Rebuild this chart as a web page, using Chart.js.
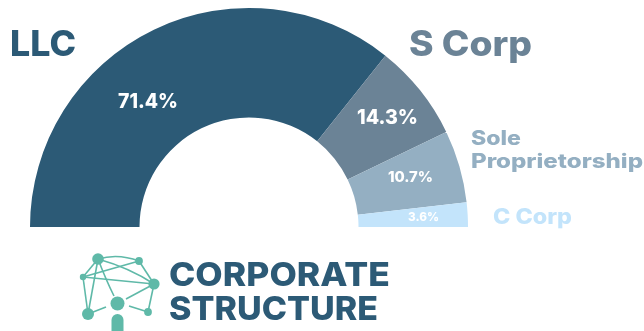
<!DOCTYPE html>
<html lang="en">
<head>
  <meta charset="UTF-8">
  <title>Corporate Structure</title>
  <script src="https://cdn.jsdelivr.net/npm/chart.js"></script>
  <style>
    html, body { margin: 0; background: #fff; }
    .wrap { position: relative; width: 644px; height: 331px; overflow: hidden; }
    .wrap canvas { position: absolute; left: 0; top: 0; }
    .logo { position: absolute; left: 0; top: 0; }
    .logo line, .logo path { stroke: #5fb9a8; stroke-width: 1.6; fill: none; }
    .logo circle, .logo rect { fill: #5fb9a8; }
  </style>
</head>
<body>
  <div class="wrap">
    <canvas id="structureChart" width="644" height="331"></canvas>
    <!-- network head logo -->
    <svg class="logo" width="644" height="331">
      <path d="M98 259 Q118 253 139 261"/>
      <path d="M98 259 Q130 268 154 284"/>
      <path d="M98 259 Q106 280 114 296"/>
      <line x1="98" y1="259" x2="83" y2="277"/>
      <line x1="98" y1="259" x2="88" y2="314"/>
      <line x1="139" y1="261" x2="154" y2="284"/>
      <line x1="139" y1="261" x2="83" y2="277"/>
      <line x1="83" y1="277" x2="154" y2="284"/>
      <line x1="83" y1="277" x2="88" y2="314"/>
      <line x1="154" y1="284" x2="148" y2="312"/>
      <line x1="154" y1="284" x2="126" y2="299"/>
      <line x1="148" y1="312" x2="129" y2="306"/>
      <line x1="88" y1="314" x2="106" y2="307"/>
      <circle cx="98" cy="259" r="5.8"/>
      <circle cx="139" cy="261" r="3.9"/>
      <circle cx="83" cy="277" r="3.2"/>
      <circle cx="154" cy="284" r="5.6"/>
      <circle cx="88" cy="314" r="6"/>
      <circle cx="148" cy="312" r="3.9"/>
      <circle cx="117.5" cy="303.5" r="7"/>
      <rect x="111.5" y="314" width="12" height="24" rx="6"/>
    </svg>
  </div>

  <script>
    const categories = ['LLC', 'S Corp', 'Sole Proprietorship', 'C Corp'];
    const shares = [71.4, 14.3, 10.7, 3.6];
    const sliceColors = ['#2c5a76', '#6b8396', '#94afc2', '#c3e4fb'];
    const heading = ['CORPORATE', 'STRUCTURE'];

    const FONT = 'Inter, "Open Sans", sans-serif';

    // bold text stretched sideways to an exact width
    function fitText(ctx, text, x, y, width, size, color) {
      ctx.save();
      ctx.font = '800 ' + size + 'px ' + FONT;
      ctx.fillStyle = color;
      ctx.textAlign = 'left';
      ctx.textBaseline = 'alphabetic';
      ctx.translate(x, y);
      ctx.scale(width / ctx.measureText(text).width, 1);
      ctx.fillText(text, 0, 0);
      ctx.restore();
    }

    const textPlugin = {
      id: 'structureText',
      afterDraw(chart) {
        const ctx = chart.ctx;
        // percentage on each slice
        fitText(ctx, shares[0].toFixed(1) + '%', 118, 108, 60, 20, '#fff');
        fitText(ctx, shares[1].toFixed(1) + '%', 357, 124, 61, 20, '#fff');
        fitText(ctx, shares[2].toFixed(1) + '%', 388, 182, 45, 15, '#fff');
        fitText(ctx, shares[3].toFixed(1) + '%', 408, 221, 31, 12, '#fff');
        // category names beside the arc
        fitText(ctx, categories[0], 10, 56, 66, 35, sliceColors[0]);
        fitText(ctx, categories[1], 409, 56, 123, 35, sliceColors[1]);
        const sole = categories[2].split(' ');
        fitText(ctx, sole[0], 471, 145, 50, 20, sliceColors[2]);
        fitText(ctx, sole[1], 471, 168, 172, 20, sliceColors[2]);
        fitText(ctx, categories[3], 493, 224, 79, 21, sliceColors[3]);
        // heading next to the logo
        fitText(ctx, heading[0], 169, 286, 221, 33, sliceColors[0]);
        fitText(ctx, heading[1], 169, 320, 209, 33, sliceColors[0]);
      }
    };

    new Chart(document.getElementById('structureChart').getContext('2d'), {
      type: 'doughnut',
      data: {
        labels: categories,
        datasets: [{
          data: shares,
          backgroundColor: sliceColors,
          borderWidth: 0
        }]
      },
      options: {
        responsive: false,
        animation: false,
        rotation: -90,
        circumference: 180,
        cutout: '50%',
        layout: { padding: { left: 30, top: 8, right: 176, bottom: 104 } },
        plugins: {
          legend: { display: false },
          tooltip: { enabled: false }
        }
      },
      plugins: [textPlugin]
    });
  </script>
</body>
</html>
